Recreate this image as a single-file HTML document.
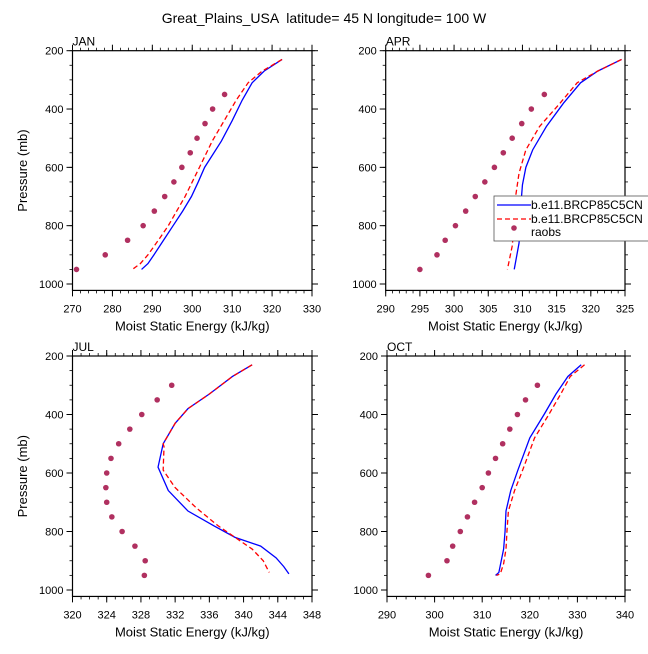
<!DOCTYPE html>
<html><head><meta charset="utf-8"><style>
body{margin:0;background:#fff}
svg text{font-family:"Liberation Sans",Arial,sans-serif;fill:#000}
</style></head><body>
<svg id="chart" width="648" height="649" viewBox="0 0 648 649" xmlns="http://www.w3.org/2000/svg">
<text x="324" y="23" font-size="14" text-anchor="middle">Great_Plains_USA &#160;latitude= 45 N longitude= 100 W</text>
</svg>
<script>
// JAN
const janObsP=[950,900,850,800,750,700,650,600,550,500,450,400,350];
const janObsE=[271,278.2,283.8,287.7,290.5,293.1,295.4,297.4,299.5,301.2,303.2,305.1,308.1];
const janM1P=[230,270,310,370,440,510,600,650,700,750,800,850,900,930,950];
const janM1E=[322.5,318,315,312.5,310,307.3,303.1,301.5,299.8,297.6,295.2,292.8,290.4,288.9,287.3];
const janM2P=[230,270,310,370,440,510,600,650,700,750,800,850,900,930,950];
const janM2E=[322.5,317.5,314,311,308,305,301.8,300,298.2,296.1,294,291.5,288.9,287,285];
// APR
const aprObsP=[950,900,850,800,750,700,650,600,550,500,450,400,350];
const aprObsE=[295,297.5,298.7,300.2,301.7,303.1,304.5,305.9,307.2,308.5,309.9,311.3,313.2];
const aprM1P=[230,270,310,380,460,540,600,660,720,800,860,950];
const aprM1E=[324.5,321,318.5,316,313.5,311.5,310.5,310,309.8,309.7,309.5,308.8];
const aprM2P=[230,270,310,380,460,540,620,700,800,870,950];
const aprM2E=[324.5,321,318,315.5,312.5,310.5,309.5,309,308.8,308.5,307.8];
// JUL
const julObsP=[300,350,400,450,500,550,600,650,700,750,800,850,900,950];
const julObsE=[331.6,329.9,328.1,326.7,325.4,324.5,324.0,323.9,324.0,324.6,325.8,327.3,328.5,328.4];
const julM1P=[230,270,330,380,430,500,580,660,730,780,820,850,890,920,945];
const julM1E=[341,338.7,336,333.5,332,330.6,330,331.2,333.5,336.5,339,342,343.8,344.7,345.3];
const julM2P=[230,270,330,380,430,500,510,590,650,720,780,820,860,900,940];
const julM2E=[341,338.7,336,333.5,332,330.6,330.7,330.6,332,334.5,337,339,341,342.3,343];
// OCT
const octObsP=[300,350,400,450,500,550,600,650,700,750,800,850,900,950];
const octObsE=[321.6,319.1,317.4,315.8,314.3,312.8,311.3,310,308.4,306.9,305.4,303.8,302.6,298.7];
const octM1P=[230,270,330,400,480,590,660,730,800,860,900,940,950];
const octM1E=[330.8,328,325.5,323,320,317.5,316,315,314.8,314.5,314,313.5,312.8];
const octM2P=[230,270,330,400,480,590,660,730,800,860,910,945,950];
const octM2E=[331.5,328.5,326.5,324,321,318.5,316.8,315.5,315.2,315,314.5,313.8,313];
const yTicks=[200,400,600,800,1000];
const janXTicks=[270,280,290,300,310,320,330];
const aprXTicks=[290,295,300,305,310,315,320,325];
const julXTicks=[320,324,328,332,336,340,344,348];
const octXTicks=[290,300,310,320,330,340];
const legendLabels=["b.e11.BRCP85C5CN","b.e11.BRCP85C5CN","raobs"];

const NS="http://www.w3.org/2000/svg";
const svg=document.getElementById('chart');
function mk(tag,attrs,parent){const e=document.createElementNS(NS,tag);for(const k in attrs)e.setAttribute(k,attrs[k]);(parent||svg).appendChild(e);return e;}

function panel(o){
  const g=mk('g',{});
  
  
  const X=v=>o.x0+(v-o.xmin)/(o.xmax-o.xmin)*(o.x1-o.x0);
  const Y=p=>o.y0+(p-200)/800*(o.y1000-o.y0);
  const yBot=Y(1022);
  for(let v=o.xmin;v<=o.xmax+1e-6;v+=o.minor){const x=X(v);
    mk('line',{x1:x,x2:x,y1:o.y0,y2:o.y0-3,stroke:'#000','stroke-width':0.8},g);
    mk('line',{x1:x,x2:x,y1:yBot,y2:yBot+3,stroke:'#000','stroke-width':0.8},g);}
  for(let p=200;p<=1000;p+=50){const y=Y(p);
    mk('line',{x1:o.x0,x2:o.x0-3,y1:y,y2:y,stroke:'#000','stroke-width':0.8},g);
    mk('line',{x1:o.x1,x2:o.x1+3,y1:y,y2:y,stroke:'#000','stroke-width':0.8},g);}
  o.xt.forEach(v=>{const x=X(v);
    mk('line',{x1:x,x2:x,y1:o.y0,y2:o.y0-6,stroke:'#000','stroke-width':1},g);
    mk('line',{x1:x,x2:x,y1:yBot,y2:yBot+6,stroke:'#000','stroke-width':1},g);
    const t=mk('text',{x:x,y:yBot+22,'font-size':11,'text-anchor':'middle'},g);t.textContent=v;
    
    });
  yTicks.forEach(p=>{const y=Y(p);
    mk('line',{x1:o.x0,x2:o.x0-6,y1:y,y2:y,stroke:'#000','stroke-width':1},g);
    mk('line',{x1:o.x1,x2:o.x1+6,y1:y,y2:y,stroke:'#000','stroke-width':1},g);
    const t=mk('text',{x:o.x0-9,y:y+4,'font-size':11,'text-anchor':'end'},g);t.textContent=p;
    
    });
  const box=mk('rect',{x:o.x0,y:o.y0,width:o.x1-o.x0,height:yBot-o.y0,fill:'none',stroke:'#000','stroke-width':1.2},g);
  
  
  const mt=mk('text',{x:o.x0,y:o.y0-5,'font-size':12},g);mt.textContent=o.label;
  
  
  const xt=mk('text',{x:(o.x0+o.x1)/2,y:yBot+40,'font-size':13,'text-anchor':'middle'},g);xt.textContent='Moist Static Energy (kJ/kg)';
  
  
  if(o.ytitle){const cy=(o.y0+yBot)/2;const yt=mk('text',{x:27,y:cy,'font-size':13,'text-anchor':'middle',transform:`rotate(-90 27 ${cy})`},g);yt.textContent='Pressure (mb)';
    
    }
  const l1=mk('polyline',{points:o.m1P.map((p,i)=>X(o.m1E[i])+','+Y(p)).join(' '),fill:'none',stroke:'#0000ff','stroke-width':1.3},g);
  
  
  const l2=mk('polyline',{points:o.m2P.map((p,i)=>X(o.m2E[i])+','+Y(p)).join(' '),fill:'none',stroke:'#ff0000','stroke-width':1.3,'stroke-dasharray':'5,3'},g);
  
  
  o.oP.forEach((p,i)=>{const c=mk('circle',{cx:X(o.oE[i]),cy:Y(p),r:2.8,fill:'#b03060'},g);
    
    });
}
panel({name:'jan',label:'JAN',x0:72.5,x1:312,y0:50.7,y1000:284,xmin:270,xmax:330,minor:2,xt:janXTicks,ytitle:true,m1P:janM1P,m1E:janM1E,m2P:janM2P,m2E:janM2E,oP:janObsP,oE:janObsE});
panel({name:'apr',label:'APR',x0:385.7,x1:625,y0:50.7,y1000:284,xmin:290,xmax:325,minor:1,xt:aprXTicks,ytitle:false,m1P:aprM1P,m1E:aprM1E,m2P:aprM2P,m2E:aprM2E,oP:aprObsP,oE:aprObsE});
panel({name:'jul',label:'JUL',x0:72.5,x1:312,y0:356,y1000:590,xmin:320,xmax:348,minor:1,xt:julXTicks,ytitle:true,m1P:julM1P,m1E:julM1E,m2P:julM2P,m2E:julM2E,oP:julObsP,oE:julObsE});
panel({name:'oct',label:'OCT',x0:387,x1:625,y0:356,y1000:590,xmin:290,xmax:340,minor:2,xt:octXTicks,ytitle:false,m1P:octM1P,m1E:octM1E,m2P:octM2P,m2E:octM2E,oP:octObsP,oE:octObsE});

const lg=mk('g',{});


mk('rect',{x:494,y:196,width:160,height:45,fill:'#fff',stroke:'#555','stroke-width':0.8},lg);
const lys=[205,219,232];
legendLabels.forEach((s,i)=>{
  if(i===0){const l=mk('line',{x1:497,x2:531,y1:lys[i],y2:lys[i],stroke:'#0000ff','stroke-width':1.3},lg);
    }
  if(i===1){const l=mk('line',{x1:497,x2:531,y1:lys[i],y2:lys[i],stroke:'#ff0000','stroke-width':1.3,'stroke-dasharray':'5,3'},lg);
    }
  if(i===2){const c=mk('circle',{cx:514,cy:lys[i]-4,r:2.8,fill:'#b03060'},lg);
    }
  const t=mk('text',{x:531,y:lys[i]+4,'font-size':12},lg);t.textContent=s;
  
  
});
</script>
</body></html>
